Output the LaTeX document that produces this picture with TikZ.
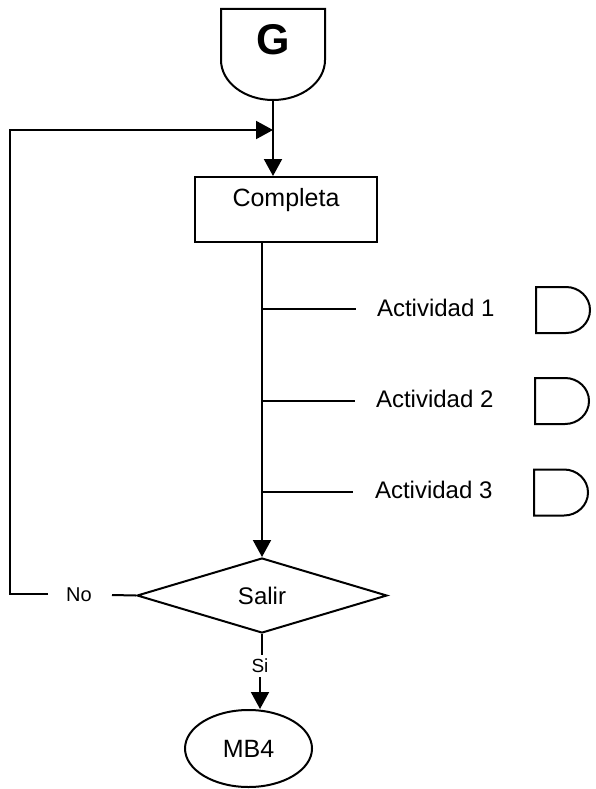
\documentclass[tikz,border=0pt]{standalone}
\usepackage{fontspec}
\setmainfont{Liberation Sans}
\usetikzlibrary{shapes.geometric,arrows.meta}

\begin{document}
\begin{tikzpicture}[x=10pt, y=10pt, line width=2pt,
    flecha/.style={-{Triangle[length=17pt,width=18pt]}},
    texto/.style={font=\fontsize{24}{24}\selectfont}]
        \useasboundingbox (0,0) rectangle (59.6,-78.9);

        % Conector de entrada "G"
        \draw (22.1,-0.9) -- (32.5,-0.9) -- (32.5,-6.0)
            arc[start angle=0, end angle=-180, x radius=5.2, y radius=4.0] -- cycle;
        \node (G) at (27.3,-4.0) {\fontsize{43}{43}\selectfont\bfseries G};
        \coordinate (Gb) at (27.3,-10.0);
        \coordinate (L) at (27.3,-13.0); % union del lazo

        % Proceso
        \node[draw, font=\fontsize{25}{25}\selectfont, minimum width=182pt, minimum height=65pt,
              inner sep=0pt, text height=16pt, text depth=23pt] (C) at (28.6,-20.95) {Completa};
        \draw[flecha] (Gb) -- (C.north -| Gb);

        % Decision
        \node[diamond, draw, minimum width=250pt, minimum height=75pt, inner sep=0pt,
              font=\fontsize{24}{24}\selectfont] (S) at (26.2,-59.55) {Salir};
        \draw[flecha] (C.south -| S.north) -- (S.north);

        % Actividades
        \coordinate (B1) at (26.2,-30.9);
        \coordinate (E1) at (35.6,-30.9);
        \node[texto, anchor=west, inner sep=0pt] (A1) at (37.6,-30.8) {Actividad 1};
        \draw (B1) -- (E1);
        \draw (53.6,-28.7) -- (56.6,-28.7)
            arc[start angle=90, end angle=-90, x radius=2.4, y radius=2.3] -- (53.6,-33.3) -- cycle;

        \coordinate (B2) at (26.2,-40.1);
        \coordinate (E2) at (35.5,-40.1);
        \node[texto, anchor=west, inner sep=0pt] (A2) at (37.5,-39.9) {Actividad 2};
        \draw (B2) -- (E2);
        \draw (53.5,-37.8) -- (56.5,-37.8)
            arc[start angle=90, end angle=-90, x radius=2.4, y radius=2.3] -- (53.5,-42.4) -- cycle;

        \coordinate (B3) at (26.2,-49.2);
        \coordinate (E3) at (35.3,-49.2);
        \node[texto, anchor=west, inner sep=0pt] (A3) at (37.4,-49.0) {Actividad 3};
        \draw (B3) -- (E3);
        \draw (53.4,-46.95) -- (56.4,-46.95)
            arc[start angle=90, end angle=-90, x radius=2.4, y radius=2.3] -- (53.4,-51.55) -- cycle;

        % Rama "No": regreso
        \node[font=\fontsize{20}{20}\selectfont] (No) at (7.9,-59.5) {No};
        \coordinate (N1) at (11.2,-59.5);
        \coordinate (N0) at (4.8,-59.4);
        \coordinate (K1) at (1.0,-59.4);
        \coordinate (K2) at (1.0,-13.0);
        \draw (S.west) -- (N1);
        \draw[flecha] (N0) -- (K1) -- (K2) -- (L);

        % Rama "Si"
        \node[font=\fontsize{19}{19}\selectfont] (Si) at (26.0,-66.6) {Si};
        \node[ellipse, draw, minimum width=127pt, minimum height=77pt, inner sep=0pt,
              font=\fontsize{25}{25}\selectfont] (M) at (24.85,-74.85) {MB4};
        \draw (S.south) -- (S.south |- Si.north);
        \draw[flecha] (Si.south) -- (Si.south |- M.north);
    \end{tikzpicture}
\end{document}
